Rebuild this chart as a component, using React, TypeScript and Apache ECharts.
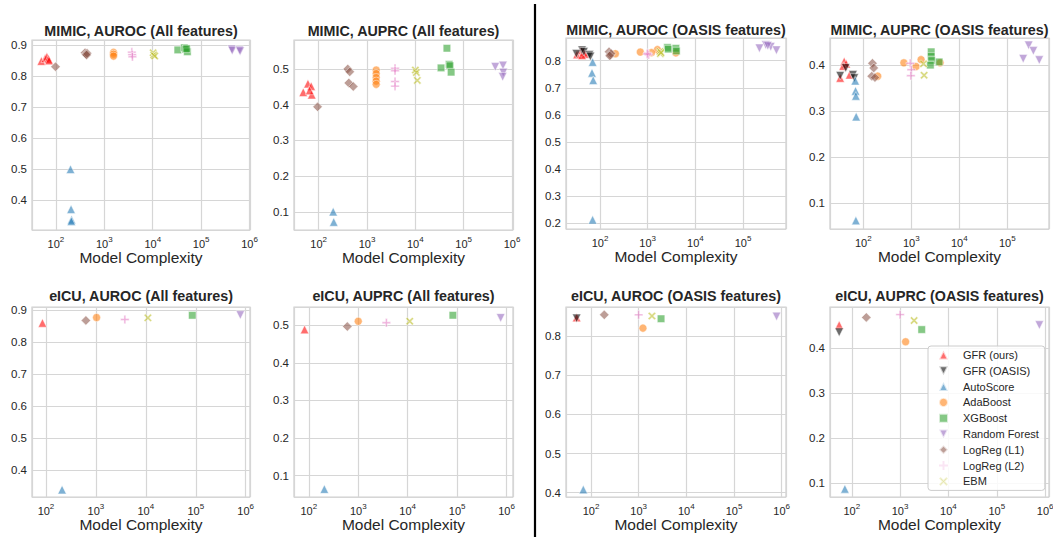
import React, { useEffect, useRef } from "react";
import * as echarts from "echarts";

const FONT = "'Liberation Sans', Arial, Helvetica, sans-serif";
const TEXT = "#262626";

const METHODS = ["GFR (ours)", "GFR (OASIS)", "AutoScore", "AdaBoost", "XGBoost", "Random Forest", "LogReg (L1)", "LogReg (L2)", "EBM"];
const METHOD_COLORS = [
  "rgba(255,0,0,0.72)",
  "rgba(0,0,0,0.72)",
  "rgba(31,119,180,0.72)",
  "rgba(255,127,14,0.72)",
  "rgba(44,160,44,0.72)",
  "rgba(148,103,189,0.72)",
  "rgba(140,86,75,0.72)",
  "rgba(227,119,194,0.72)",
  "rgba(188,189,34,0.72)",
];
const TRI_DOWN = "path://M0,0L10,0L5,10Z";
const PLUS = "path://M3.9,0H6.1V3.9H10V6.1H6.1V10H3.9V6.1H0V3.9H3.9Z";
const CROSS = "path://M0,1.8L1.8,0L5,3.2L8.2,0L10,1.8L6.8,5L10,8.2L8.2,10L5,6.8L1.8,10L0,8.2L3.2,5Z";
const METHOD_SYMBOLS = ["triangle", TRI_DOWN, "triangle", "circle", "rect", TRI_DOWN, "diamond", PLUS, CROSS];
const METHOD_SIZES = [8.5, 8.5, 8.5, 8, 7.5, 8.5, 9.5, 8.5, 8];

const PANEL_TITLES = [
  "MIMIC, AUROC (All features)",
  "MIMIC, AUPRC (All features)",
  "MIMIC, AUROC (OASIS features)",
  "MIMIC, AUPRC (OASIS features)",
  "eICU, AUROC (All features)",
  "eICU, AUPRC (All features)",
  "eICU, AUROC (OASIS features)",
  "eICU, AUPRC (OASIS features)",
];

// x-axis limits as powers of ten, y-axis limits
const X_EXP_RANGES = [[1.505, 6.01], [1.49, 6.02], [1.287, 5.9], [1.306, 5.87], [1.72, 6.086], [1.7, 6.13], [1.476, 6.09], [1.55, 6.08]];
const Y_RANGES = [[0.303, 0.916], [0.0497, 0.581], [0.178, 0.884], [0.0436, 0.459], [0.315, 0.91], [0.043, 0.549], [0.389, 0.874], [0.07, 0.491]];

type Pts = Record<string, number[][]>;

const mimicAurocAll: Pts = {
  "GFR (ours)": [[50, 0.848], [60, 0.857], [65, 0.862], [70, 0.855], [72, 0.85]],
  AutoScore: [[200, 0.499], [205, 0.37], [210, 0.336], [208, 0.331]],
  AdaBoost: [[1550, 0.876], [1550, 0.87], [1550, 0.864]],
  XGBoost: [[33000, 0.884], [45000, 0.891], [48000, 0.886], [52000, 0.878], [50000, 0.888]],
  "Random Forest": [[430000, 0.886], [440000, 0.882], [620000, 0.883], [640000, 0.88]],
  "LogReg (L1)": [[98, 0.83], [400, 0.875], [420, 0.87], [440, 0.873], [430, 0.868]],
  "LogReg (L2)": [[3700, 0.877], [3750, 0.869], [3800, 0.862]],
  EBM: [[10200, 0.875], [10500, 0.868], [11000, 0.864]],
};
const mimicAuprcAll: Pts = {
  "GFR (ours)": [[48, 0.435], [60, 0.459], [70, 0.452], [72, 0.428], [65, 0.44]],
  AutoScore: [[200, 0.101], [205, 0.072]],
  AdaBoost: [[1550, 0.497], [1550, 0.487], [1550, 0.476], [1550, 0.466], [1550, 0.457]],
  XGBoost: [[45000, 0.558], [34000, 0.503], [50000, 0.513], [52000, 0.509], [55000, 0.491]],
  "Random Forest": [[450000, 0.506], [650000, 0.51], [660000, 0.49], [640000, 0.478]],
  "LogReg (L1)": [[95, 0.394], [400, 0.5], [440, 0.492], [420, 0.461], [520, 0.451]],
  "LogReg (L2)": [[3800, 0.502], [3800, 0.495], [3800, 0.465], [3800, 0.452]],
  EBM: [[10000, 0.497], [10500, 0.49], [11000, 0.468]],
};
const mimicAurocOasis: Pts = {
  "GFR (ours)": [[33, 0.823], [40, 0.838], [45, 0.832], [50, 0.825], [42, 0.82]],
  "GFR (OASIS)": [[32, 0.826], [42, 0.839], [46, 0.833], [60, 0.822], [63, 0.816]],
  AutoScore: [[70, 0.795], [68, 0.755], [72, 0.728], [70, 0.212]],
  AdaBoost: [[210, 0.826], [700, 0.832], [1600, 0.841], [3900, 0.829], [1200, 0.83]],
  XGBoost: [[2600, 0.849], [2700, 0.843], [3900, 0.846], [4000, 0.836]],
  "Random Forest": [[220000, 0.846], [300000, 0.858], [380000, 0.852], [500000, 0.839], [330000, 0.855]],
  "LogReg (L1)": [[155, 0.833], [165, 0.822], [170, 0.827], [160, 0.818]],
  "LogReg (L2)": [[1000, 0.828], [1050, 0.822], [980, 0.825]],
  EBM: [[1800, 0.834], [1850, 0.826], [1900, 0.83]],
};
const mimicAuprcOasis: Pts = {
  "GFR (ours)": [[33, 0.372], [40, 0.408], [44, 0.403], [52, 0.379], [38, 0.398]],
  "GFR (OASIS)": [[33, 0.377], [43, 0.394], [61, 0.379], [65, 0.372]],
  AutoScore: [[68, 0.366], [69, 0.344], [70, 0.333], [71, 0.288], [70, 0.062]],
  AdaBoost: [[200, 0.376], [700, 0.405], [1250, 0.397], [1600, 0.412], [4000, 0.405]],
  XGBoost: [[2600, 0.429], [2600, 0.419], [2650, 0.41], [3800, 0.407], [2500, 0.4]],
  "Random Forest": [[215000, 0.414], [280000, 0.443], [350000, 0.431], [465000, 0.411]],
  "LogReg (L1)": [[155, 0.404], [165, 0.394], [150, 0.376], [175, 0.373]],
  "LogReg (L2)": [[950, 0.404], [1000, 0.39], [980, 0.377]],
  EBM: [[1800, 0.403], [1850, 0.378]],
};
const eicuAurocAll: Pts = {
  "GFR (ours)": [[85, 0.86]],
  AutoScore: [[210, 0.338]],
  AdaBoost: [[1030, 0.877]],
  XGBoost: [[85000, 0.884]],
  "Random Forest": [[780000, 0.885]],
  "LogReg (L1)": [[630, 0.868]],
  "LogReg (L2)": [[3800, 0.871]],
  EBM: [[11000, 0.876]],
};
const eicuAuprcAll: Pts = {
  "GFR (ours)": [[82, 0.489]],
  AutoScore: [[206, 0.064]],
  AdaBoost: [[1000, 0.511]],
  XGBoost: [[82000, 0.527]],
  "Random Forest": [[760000, 0.52]],
  "LogReg (L1)": [[600, 0.497]],
  "LogReg (L2)": [[3700, 0.507]],
  EBM: [[11000, 0.511]],
};
const eicuAurocOasis: Pts = {
  "GFR (ours)": [[50, 0.847]],
  "GFR (OASIS)": [[50, 0.845]],
  AutoScore: [[69, 0.408]],
  AdaBoost: [[1230, 0.82]],
  XGBoost: [[2950, 0.844]],
  "Random Forest": [[780000, 0.85]],
  "LogReg (L1)": [[190, 0.854]],
  "LogReg (L2)": [[1000, 0.854]],
  EBM: [[1900, 0.851]],
};
const eicuAuprcOasis: Pts = {
  "GFR (ours)": [[55, 0.451]],
  "GFR (OASIS)": [[55, 0.435]],
  AutoScore: [[72, 0.088]],
  AdaBoost: [[1300, 0.414]],
  XGBoost: [[2800, 0.441]],
  "Random Forest": [[760000, 0.451]],
  "LogReg (L1)": [[200, 0.468]],
  "LogReg (L2)": [[1000, 0.474]],
  EBM: [[1950, 0.461]],
};

const PANEL_DATA = [mimicAurocAll, mimicAuprcAll, mimicAurocOasis, mimicAuprcOasis, eicuAurocAll, eicuAuprcAll, eicuAurocOasis, eicuAuprcOasis];

// layout: [left, top, width, height]
const PANEL_BOXES = [
  [32, 40, 218, 190],
  [294, 40, 219, 190],
  [566, 38, 220, 191],
  [830, 38, 219, 191],
  [32, 307, 218, 190],
  [294, 307, 219, 190],
  [566, 307, 220, 190],
  [830, 307, 219, 190],
];
const TITLE_TOPS = [24, 24, 23, 23, 289, 289, 289, 289];

function buildOption() {
  const grid: any[] = [];
  const xAxis: any[] = [];
  const yAxis: any[] = [];
  const title: any[] = [];
  const series: any[] = [];
  PANEL_BOXES.forEach(([l, t, w, h], i) => {
    grid.push({ left: l, top: t, width: w, height: h, show: true, borderColor: "#cfcfcf", borderWidth: 1.2, containLabel: false, outerBoundsMode: "none" });
    title.push({
      text: PANEL_TITLES[i],
      left: l + w / 2,
      top: TITLE_TOPS[i],
      textAlign: "center",
      padding: 0,
      textStyle: { fontFamily: FONT, fontSize: 14.3, fontWeight: "bold", color: TEXT },
    });
    xAxis.push({
      type: "log",
      logBase: 10,
      gridIndex: i,
      min: Math.pow(10, X_EXP_RANGES[i][0]),
      max: Math.pow(10, X_EXP_RANGES[i][1]),
      axisLine: { show: false },
      axisTick: { show: false },
      splitLine: { show: true, lineStyle: { color: "#d6d6d6", width: 1.2 } },
      axisLabel: {
        showMinLabel: false,
        showMaxLabel: false,
        margin: 5,
        formatter: (v: number) => `{b|10}{s|${Math.round(Math.log10(v))}}`,
        rich: {
          b: { fontFamily: FONT, fontSize: 11, color: TEXT, lineHeight: 14, verticalAlign: "bottom" },
          s: { fontFamily: FONT, fontSize: 8, color: TEXT, lineHeight: 14, verticalAlign: "top" },
        },
      },
      name: "Model Complexity",
      nameLocation: "middle",
      nameGap: 18,
      nameTextStyle: { fontFamily: FONT, fontSize: 15.5, color: TEXT, verticalAlign: "top" },
    });
    yAxis.push({
      type: "value",
      gridIndex: i,
      min: Y_RANGES[i][0],
      max: Y_RANGES[i][1],
      minInterval: 0.1,
      maxInterval: 0.1,
      splitNumber: 5,
      axisLine: { show: false },
      axisTick: { show: false },
      splitLine: { show: true, lineStyle: { color: "#d6d6d6", width: 1.2 } },
      axisLabel: {
        showMinLabel: false,
        showMaxLabel: false,
        margin: 5,
        fontFamily: FONT,
        fontSize: 11.5,
        color: TEXT,
        formatter: (v: number) => v.toFixed(1),
      },
    });
    const pd = PANEL_DATA[i];
    METHODS.forEach((m, k) => {
      if (!pd[m]) return;
      series.push({
        type: "scatter",
        name: m,
        xAxisIndex: i,
        yAxisIndex: i,
        data: pd[m],
        symbol: METHOD_SYMBOLS[k],
        symbolSize: METHOD_SIZES[k],
        itemStyle: { color: METHOD_COLORS[k], borderColor: "rgba(255,255,255,0.85)", borderWidth: 0.7 },
        emphasis: { disabled: true },
      });
    });
  });
  return {
    animation: false,
    backgroundColor: "#ffffff",
    title,
    grid,
    xAxis,
    yAxis,
    series,
    legend: {
      data: METHODS,
      orient: "vertical",
      left: 928,
      top: 346,
      padding: [3, 6, 3, 10],
      itemWidth: 9,
      itemHeight: 9,
      itemGap: 3.8,
      selectedMode: false,
      symbolKeepAspect: true,
      backgroundColor: "rgba(255,255,255,0.85)",
      borderColor: "#cccccc",
      borderWidth: 1,
      borderRadius: 3,
      textStyle: { fontFamily: FONT, fontSize: 11, color: TEXT, lineHeight: 12, padding: [0, 0, 0, 10] },
    },
    graphic: [
      { type: "line", shape: { x1: 535, y1: 4, x2: 535, y2: 537 }, style: { stroke: "#000000", lineWidth: 2.2 } },
    ],
  };
}

export default function App() {
  const ref = useRef<HTMLDivElement>(null);
  useEffect(() => {
    if (!ref.current) return;
    const chart = echarts.init(ref.current, undefined, { renderer: "svg" });
    chart.setOption(buildOption() as any);
    return () => chart.dispose();
  }, []);
  return <div ref={ref} style={{ position: "fixed", left: 0, top: 0, width: 1053, height: 537, background: "#fff" }} />;
}
